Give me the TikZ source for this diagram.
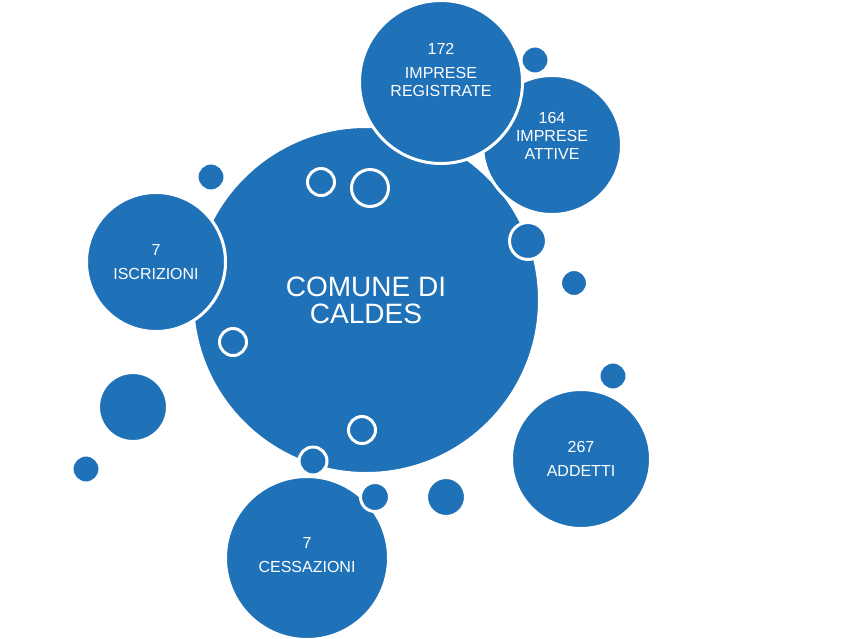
\documentclass[tikz,border=0pt]{standalone}
\usepackage{fontspec}
\setmainfont{Liberation Sans}
\definecolor{BubbleBlue}{HTML}{1F71B8}

\begin{document}
\begin{tikzpicture}[x=1pt,y=-1pt,
    bubble/.style={circle, fill=BubbleBlue, draw=white, line width=3pt,
      inner sep=0pt, minimum size=#1},
    tag/.style={text=white, align=center, font=\fontsize{16}{18}\selectfont}]
  \useasboundingbox[fill=white] (0,0) rectangle (850,638);

  % main bubble
  \node[bubble=347pt, text=white, align=center,
        font=\fontsize{28}{27}\selectfont] (comune) at (366,300)
        {COMUNE DI\\CALDES};

  % data bubbles
  \node[bubble=139pt,
        label={[tag,yshift=9pt]center:{164\\IMPRESE\\ATTIVE}}] (attive) at (552,145) {};
  \node[bubble=163pt,
        label={[tag,yshift=12pt]center:{172\\[6pt]IMPRESE\\REGISTRATE}}] (registrate) at (441,82) {};
  \node[bubble=139pt, tag] (iscrizioni) at (156,262) {7\\[6pt]ISCRIZIONI};
  \node[bubble=163pt,
        label={[tag,yshift=3pt]center:{7\\[6pt]CESSAZIONI}}] (cessazioni) at (307,558) {};
  \node[bubble=139pt, tag] (addetti) at (581,459) {267\\[6pt]ADDETTI};

  % small dots and rings
  \foreach \x/\y/\d [count=\i] in {535/60/28, 211/177/28, 321/182/27, 370/188/37,
      233/342/27, 362/430/27, 528/241/37, 574/283/27, 613/376/28,
      133/407/69, 86/469/28, 313/461/28, 375/497/29, 446/497/39}
    \node[bubble=\d pt] (dot\i) at (\x,\y) {};
\end{tikzpicture}
\end{document}
